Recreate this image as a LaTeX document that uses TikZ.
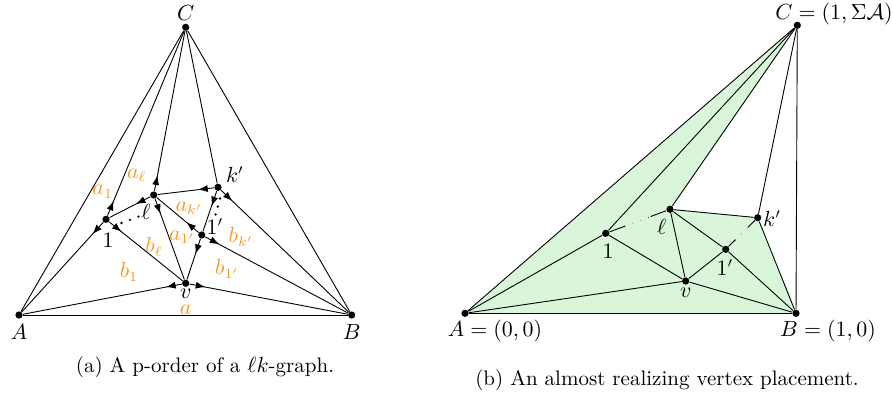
\documentclass[tikz,border=0pt]{standalone}
\usetikzlibrary{arrows.meta,decorations.markings,calc,backgrounds}
\definecolor{lbl}{RGB}{247,152,35}
\definecolor{facegreen}{RGB}{218,246,218}
\begin{document}
\begin{tikzpicture}[x=0.5pt,y=-0.5pt,font=\fontsize{10.5}{12.5}\selectfont,
  vtx/.style={circle,fill=black,inner sep=0pt,minimum size=3.6pt},
  txt/.style={inner sep=0pt},
  olbl/.style={inner sep=0pt,text=lbl},
  outarr/.style={postaction={decorate,decoration={markings,
      mark=at position 8pt with {\arrow{Latex[length=4.8pt,width=3.5pt]}}}}},
  edge/.style={line width=0.45pt}]
\useasboundingbox (0,0) rectangle (893,392);
% ---------- left figure ----------
\node[vtx] (lA) at (19,315) {};
\node[vtx] (lB) at (351.7,315) {};
\node[vtx] (lC) at (185.7,27.3) {};
\node[vtx] (lv) at (185.7,283.3) {};
\node[vtx] (l1) at (106,219.3) {};
\node[vtx] (ll) at (153.7,195) {};
\node[vtx] (lk) at (218,187.3) {};
\node[vtx] (l1p) at (201.7,235) {};
\draw[edge] (lA) -- (lB);
\draw[edge] (lA) -- (lC);
\draw[edge] (lB) -- (lC);
\draw[edge] (lk) -- (lC);
\draw[edge,outarr] (lv) -- (lA);
\draw[edge,outarr] (lv) -- (lB);
\draw[edge,outarr] (l1) -- (lA);
\draw[edge,outarr] (l1) -- (lC);
\draw[edge,outarr] (l1) -- (lv);
\draw[edge,outarr] (ll) -- (l1);
\draw[edge,outarr] (ll) -- (lC);
\draw[edge,outarr] (ll) -- (lv);
\draw[edge,outarr] (l1p) -- (ll);
\draw[edge,outarr] (lk) -- (ll);
\draw[edge,outarr] (lk) -- (l1p);
\draw[edge,outarr] (lk) -- (lB);
\draw[edge,outarr] (l1p) -- (lv);
\draw[edge,outarr] (l1p) -- (lB);
% dots
\foreach \p in {(121.5,223),(130,219.8),(138.5,216.6)} \fill \p circle (0.65pt);
\foreach \p in {(220,198.5),(217.8,206.5),(215.6,214.5)} \fill \p circle (0.65pt);
% labels
\node[txt] (tlC) at (185.7,13) {$C$};
\node[txt] (tlA) at (19,332) {$A$};
\node[txt] (tlB) at (351.7,332) {$B$};
\node[txt] (tlv) at (185.7,293.5) {$v$};
\node[txt] (tl1) at (108,240) {$1$};
\node[txt] (tll) at (146,212) {$\ell$};
\node[txt] (tlk) at (235,175) {$k'$};
\node[txt] (tl1p) at (215,227) {$1'$};
\node[olbl] (oa) at (185.7,309.5) {$a$};
\node[olbl] (oa1) at (102.7,191.7) {$a_1$};
\node[olbl] (oal) at (136.7,175) {$a_\ell$};
\node[olbl] (oak) at (189,208) {$a_{k'}$};
\node[olbl] (oa1p) at (182,237) {$a_{1'}$};
\node[olbl] (obl) at (154,247) {$b_\ell$};
\node[olbl] (ob1) at (129,272) {$b_1$};
\node[olbl] (ob1p) at (227,269) {$b_{1'}$};
\node[olbl] (obk) at (241,237) {$b_{k'}$};
\node[txt] (capa) at (205,367) {(a) A p-order of a $\ell k$-graph.};
% ---------- right figure ----------
\node[vtx] (rA) at (465,313.3) {};
\node[vtx] (rB) at (796,313.3) {};
\node[vtx] (rC) at (797.3,25.3) {};
\node[vtx] (r1) at (605.7,233.3) {};
\node[vtx] (rl) at (670,209.3) {};
\node[vtx] (rk) at (757.7,217.7) {};
\node[vtx] (r1p) at (725.7,249.3) {};
\node[vtx] (rv) at (685.7,281) {};
\begin{scope}[on background layer]
\fill[facegreen] (rA.center) -- (rC.center) -- (rl.center) -- (rk.center) -- (rB.center) -- cycle;
\end{scope}
\draw[edge] (rA) -- (rB);
\draw[edge] (rA) -- (rC);
\draw[edge] (rC) -- (rB);
\draw[edge] (rC) -- (r1);
\draw[edge] (rC) -- (rl);
\draw[edge] (rC) -- (rk);
\draw[edge] (rA) -- (r1);
\draw[edge] (rA) -- (rv);
\draw[edge] (r1) -- (rv);
\draw[edge] (rl) -- (rv);
\draw[edge] (rl) -- (r1p);
\draw[edge] (rl) -- (rk);
\draw[edge] (r1p) -- (rv);
\draw[edge] (r1p) -- (rB);
\draw[edge] (rk) -- (rB);
\draw[edge] (rv) -- (rB);
% dash-dotted connectors
\draw[edge] (r1) -- ($(r1)!0.3!(rl)$);
\draw[edge] ($(rl)!0.3!(r1)$) -- (rl);
\draw[edge,line cap=round,dash pattern=on 0pt off 4.2pt] ($(r1)!0.3!(rl)$) -- ($(rl)!0.3!(r1)$);
\draw[edge] (r1p) -- ($(r1p)!0.3!(rk)$);
\draw[edge] ($(rk)!0.3!(r1p)$) -- (rk);
\draw[edge,line cap=round,dash pattern=on 0pt off 4.2pt] ($(r1p)!0.3!(rk)$) -- ($(rk)!0.3!(r1p)$);
% labels
\node[txt] (trC) at (834,14) {$C=(1,\Sigma\mathcal{A})$};
\node[txt] (trA) at (495,331) {$A=(0,0)$};
\node[txt] (trB) at (828,331) {$B=(1,0)$};
\node[txt] (trl) at (661.7,226.7) {$\ell$};
\node[txt] (tr1) at (608,251.7) {$1$};
\node[txt] (tr1p) at (725,268) {$1'$};
\node[txt] (trv) at (685.7,293) {$v$};
\node[txt] (trk) at (772,218.3) {$k'$};
\node[txt] (capb) at (667,380) {(b) An almost realizing vertex placement.};
\end{tikzpicture}
\end{document}
